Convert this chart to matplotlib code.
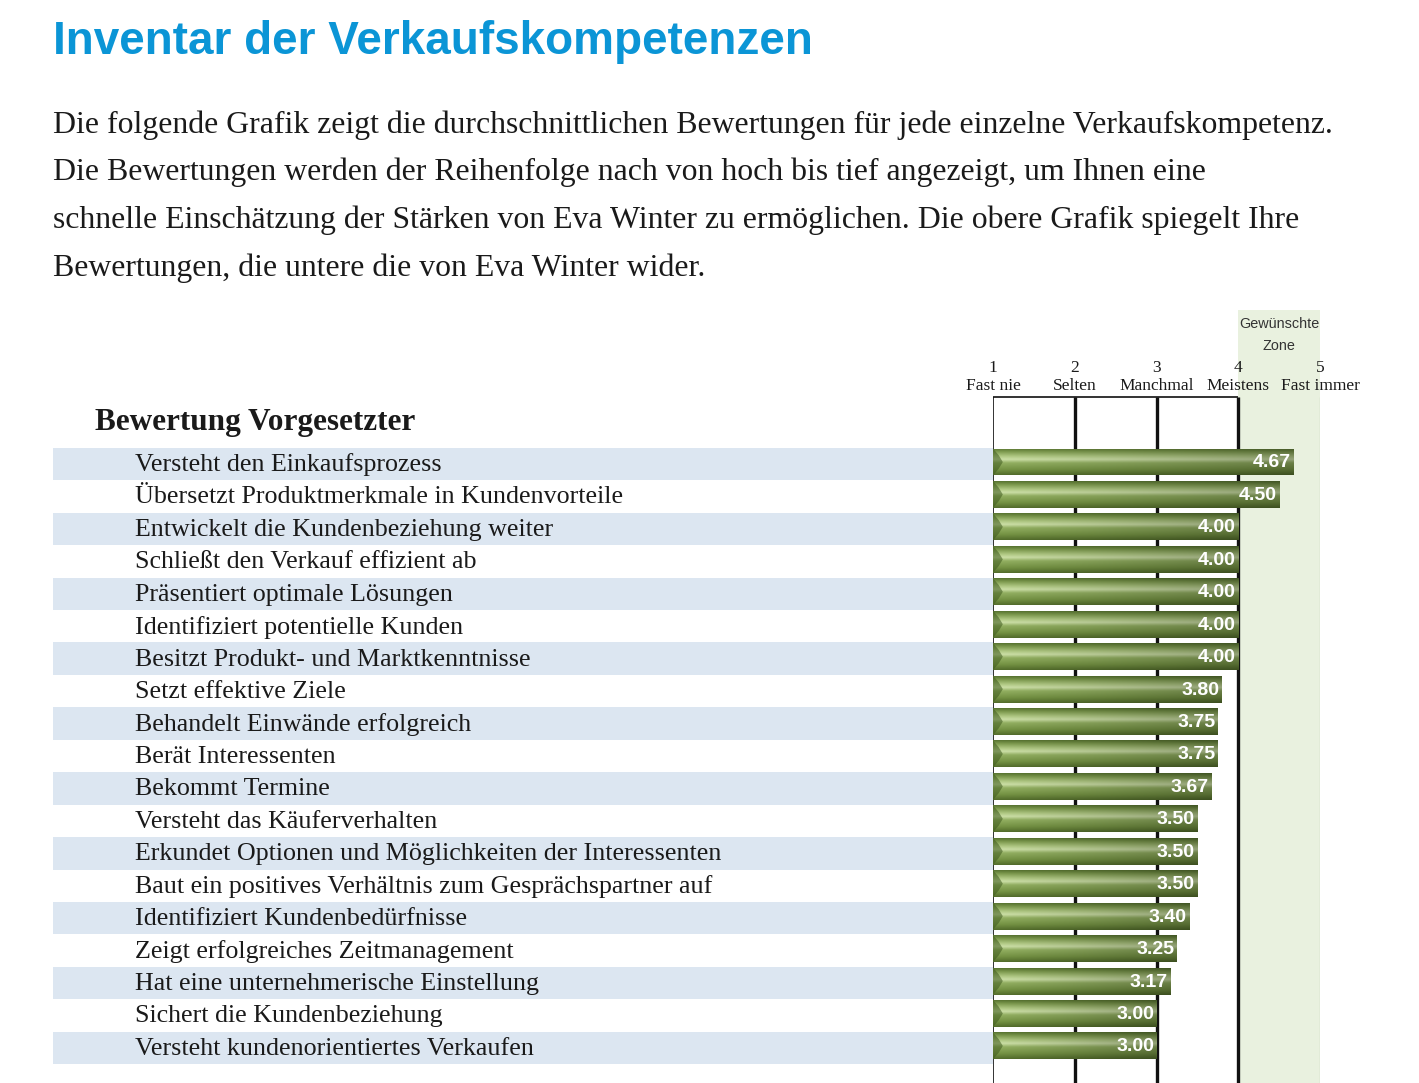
import matplotlib
matplotlib.use("Agg")
import matplotlib.pyplot as plt
import numpy as np
from matplotlib.colors import to_rgb
from matplotlib.patches import Polygon

# data
skills = ["Versteht den Einkaufsprozess",
          "Übersetzt Produktmerkmale in Kundenvorteile",
          "Entwickelt die Kundenbeziehung weiter",
          "Schließt den Verkauf effizient ab",
          "Präsentiert optimale Lösungen",
          "Identifiziert potentielle Kunden",
          "Besitzt Produkt- und Marktkenntnisse",
          "Setzt effektive Ziele",
          "Behandelt Einwände erfolgreich",
          "Berät Interessenten",
          "Bekommt Termine",
          "Versteht das Käuferverhalten",
          "Erkundet Optionen und Möglichkeiten der Interessenten",
          "Baut ein positives Verhältnis zum Gesprächspartner auf",
          "Identifiziert Kundenbedürfnisse",
          "Zeigt erfolgreiches Zeitmanagement",
          "Hat eine unternehmerische Einstellung",
          "Sichert die Kundenbeziehung",
          "Versteht kundenorientiertes Verkaufen"]
scores = [4.67, 4.50, 4.00, 4.00, 4.00, 4.00, 4.00, 3.80, 3.75, 3.75,
          3.67, 3.50, 3.50, 3.50, 3.40, 3.25, 3.17, 3.00, 3.00]
scale_values = [1, 2, 3, 4, 5]
scale_names = ["Fast nie", "Selten", "Manchmal", "Meistens", "Fast immer"]

title = "Inventar der Verkaufskompetenzen"
intro = ["Die folgende Grafik zeigt die durchschnittlichen Bewertungen für jede einzelne Verkaufskompetenz.",
         "Die Bewertungen werden der Reihenfolge nach von hoch bis tief angezeigt, um Ihnen eine",
         "schnelle Einschätzung der Stärken von Eva Winter zu ermöglichen. Die obere Grafik spiegelt Ihre",
         "Bewertungen, die untere die von Eva Winter wider."]
section = "Bewertung Vorgesetzter"

W, H = 1419, 1083
fig = plt.figure(figsize=(W / 100, H / 100), dpi=100)
fig.patch.set_facecolor("white")

def fx(px):
    return px / W

def fy(py):
    return 1 - py / H

serif = "Liberation Serif"
sans = "Liberation Sans"

fig.text(fx(53), fy(42), title, fontsize=33, fontweight="bold", family=sans,
         color="#0b95d6", va="center", ha="left")
for i, line in enumerate(intro):
    fig.text(fx(53), fy(125 + i * 47.7), line, fontsize=22.9, family=serif,
             color="#1a1a1a", va="center", ha="left")

# row geometry in pixels
row0 = 462
step = 32.44
top_px, bot_px = 310, 1083
y_top = (top_px - row0) / step
y_bot = (bot_px - row0) / step
n = len(skills)
rows = np.arange(n)
txt_off = 3 / step
stripe_off = 2 / step

# label / stripe axes
axl = fig.add_axes([fx(53), fy(bot_px), fx(993 - 53), fy(top_px) - fy(bot_px)])
axl.set_xlim(0, 1)
axl.set_ylim(y_bot, y_top)
axl.axis("off")
for r in rows:
    if r % 2 == 0:
        axl.axhspan(r - 0.5 + stripe_off, r + 0.5 + stripe_off, color="#dce6f1", lw=0)
    axl.text((135 - 53) / 940, r + txt_off, skills[r], fontsize=18.7, family=serif,
             color="#1a1a1a", va="center", ha="left")
axl.text((95 - 53) / 940, (423 - row0) / step, section, fontsize=22.5,
         fontweight="bold", family=serif, color="#1a1a1a", va="center", ha="left")

# chart axes
ax = fig.add_axes([fx(993), fy(bot_px), fx(1320 - 993), fy(top_px) - fy(bot_px)])
ax.set_xlim(1, 5)
ax.set_ylim(y_bot, y_top)
ax.axis("off")
box_top = -2.0
ax.axvspan(4, 5, color="#e9f1df", lw=0, zorder=0)
ax.vlines([2, 3, 4], box_top, y_bot, color="#111111", lw=2.4, zorder=1)
ax.vlines([1], box_top, y_bot, color="#111111", lw=1.2, zorder=1)
ax.vlines([5], box_top, y_bot, color="#c9d3bd", lw=1.0, zorder=1)
ax.hlines([box_top], 1, 4, color="#111111", lw=1.2, zorder=1)

for v, name in zip(scale_values, scale_names):
    ax.text(v, (368 - row0) / step, str(v), fontsize=12.5, family=serif,
            color="#1a1a1a", ha="center", va="center", clip_on=False)
    ax.text(v, (386 - row0) / step, name, fontsize=12.5, family=serif,
            color="#1a1a1a", ha="center", va="center", clip_on=False)
ax.text(4.5, (324 - row0) / step, "Gewünschte", fontsize=10.4, family=sans,
        color="#333333", ha="center", va="center")
ax.text(4.5, (346 - row0) / step, "Zone", fontsize=10.4, family=sans,
        color="#333333", ha="center", va="center")

# gradient for bars
prof_pos = [0.0, 0.12, 0.30, 0.42, 0.55, 0.80, 1.0]
prof_col = ["#536d2e", "#748f48", "#a5bc7b", "#bfd19c", "#89a45b", "#6d893f", "#4e6629"]
yy = np.linspace(0, 1, 40)
vert = np.stack([np.interp(yy, prof_pos, [to_rgb(c)[k] for c in prof_col]) for k in range(3)], axis=-1)
xx = np.linspace(0, 1, 200)
horiz = np.interp(xx, [0, 0.4, 1], [1.08, 0.97, 0.78])
grad = np.clip(vert[:, None, :] * horiz[None, :, None], 0, 1)

bh = 0.83
bars = ax.barh(rows, [s - 1 for s in scores], left=1, height=bh,
               color="#6a873c", lw=0, zorder=2)
for r, s, b in zip(rows, scores, bars):
    im = ax.imshow(grad, extent=(1, s, r + bh / 2, r - bh / 2), aspect="auto",
                   origin="upper", zorder=3, interpolation="bilinear")
    im.set_clip_path(b)
    ax.add_patch(Polygon([(1, r - bh / 2), (1.07, r - bh / 4), (1.12, r),
                          (1.07, r + bh / 4), (1, r + bh / 2)],
                         closed=True, color="#3f5a1e", alpha=0.55, lw=0, zorder=4))
    ax.text(s - 0.03, r + 0.03, f"{s:.2f}", fontsize=14, fontweight="bold",
            family=sans, color="white", ha="right", va="center", zorder=5)

ax.set_xlim(1, 5)
ax.set_ylim(y_bot, y_top)

fig.savefig("out.png", dpi=100)
